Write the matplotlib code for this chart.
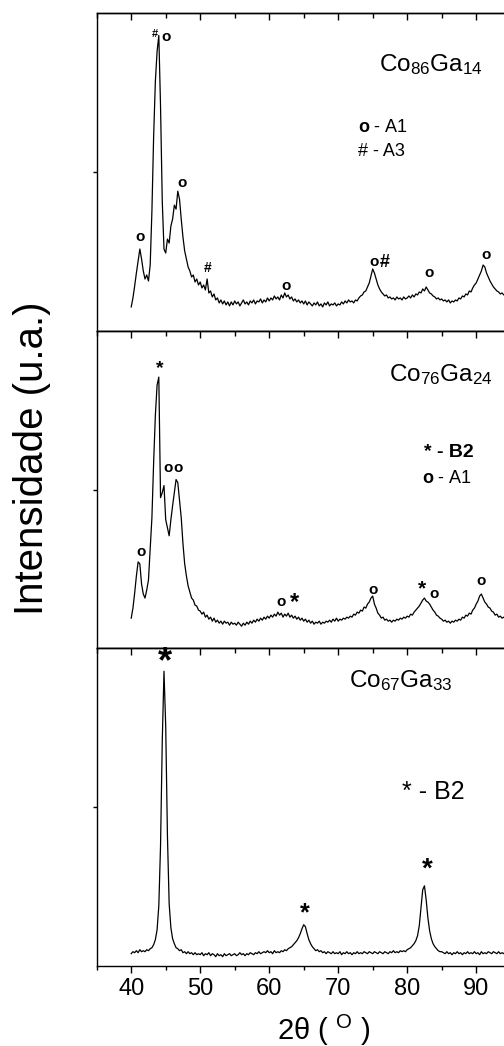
import numpy as np
import matplotlib
matplotlib.use("Agg")
import matplotlib.pyplot as plt
from matplotlib.ticker import MultipleLocator

plt.rcParams['font.family'] = ['Liberation Sans', 'DejaVu Sans']
plt.rcParams['mathtext.fontset'] = 'custom'
plt.rcParams['mathtext.rm'] = 'Liberation Sans'
plt.rcParams['mathtext.it'] = 'Liberation Sans:italic'
plt.rcParams['mathtext.bf'] = 'Liberation Sans:bold'
plt.rcParams['mathtext.default'] = 'regular'

# scan grid in degrees, counts (a.u.)
two_theta = np.arange(40.0, 95.01, 0.25)

counts_86 = [
    24, 33, 45, 58, 70, 82, 72, 60, 52, 56, 50, 66, 120, 195, 250, 280, 296, 225, 130, 82,
    78, 92, 88, 105, 112, 126, 122, 140, 132, 112, 94, 80, 72, 64, 60, 54, 56, 49, 52, 46,
    49, 43, 46, 41, 52, 38, 40, 34, 37, 31, 33, 28, 31, 27, 30, 26, 29, 25, 29, 26,
    30, 27, 29, 25, 28, 31, 27, 29, 26, 30, 28, 31, 27, 30, 29, 32, 28, 31, 29, 33,
    30, 33, 31, 35, 32, 34, 31, 36, 33, 38, 34, 36, 32, 34, 30, 32, 29, 31, 28, 30,
    27, 30, 26, 29, 27, 25, 28, 26, 29, 25, 27, 24, 28, 26, 29, 25, 27, 26, 28, 25,
    27, 26, 29, 27, 30, 28, 31, 29, 30, 28, 31, 30, 33, 35, 36, 39, 40, 44, 48, 55,
    62, 58, 52, 46, 42, 39, 37, 35, 36, 33, 34, 32, 33, 31, 34, 32, 33, 31, 34, 32,
    33, 35, 33, 36, 34, 37, 36, 39, 38, 42, 40, 44, 41, 38, 37, 35, 34, 32, 33, 31,
    32, 30, 31, 29, 31, 28, 30, 29, 31, 30, 33, 32, 35, 34, 37, 36, 40, 39, 43, 46,
    48, 52, 56, 60, 66, 64, 58, 54, 50, 47, 44, 42, 40, 39, 37, 38, 36, 37, 35, 36,
    34]

counts_76 = [
    30, 40, 55, 72, 86, 84, 64, 54, 50, 58, 68, 100, 130, 185, 232, 262, 270, 150, 155, 162,
    128, 120, 112, 128, 142, 155, 168, 165, 148, 130, 104, 84, 72, 62, 56, 50, 48, 43, 42, 38,
    37, 34, 36, 31, 33, 29, 31, 27, 30, 26, 28, 25, 27, 24, 27, 25, 26, 23, 26, 24,
    25, 23, 26, 24, 22, 25, 23, 26, 24, 27, 25, 28, 26, 29, 27, 30, 28, 31, 29, 32,
    30, 33, 31, 34, 32, 36, 33, 35, 31, 34, 32, 35, 31, 33, 30, 32, 29, 31, 28, 30,
    27, 29, 26, 28, 25, 27, 24, 26, 25, 27, 24, 26, 25, 27, 26, 28, 26, 29, 27, 30,
    27, 29, 28, 30, 29, 31, 30, 32, 31, 34, 33, 36, 35, 38, 37, 41, 40, 44, 46, 50,
    52, 44, 40, 35, 33, 30, 31, 28, 29, 27, 28, 26, 28, 27, 29, 28, 30, 29, 31, 30,
    32, 31, 34, 33, 36, 38, 40, 42, 45, 48, 50, 47, 46, 44, 41, 38, 36, 33, 32, 30,
    29, 27, 28, 26, 27, 25, 27, 26, 28, 27, 29, 28, 31, 30, 33, 32, 35, 34, 38, 40,
    44, 47, 52, 54, 50, 46, 44, 41, 40, 37, 36, 33, 34, 31, 32, 30, 31, 29, 30, 28,
    28]

counts_67 = [
    12, 14, 13, 15, 13, 16, 14, 15, 14, 16, 15, 17, 18, 21, 26, 36, 60, 120, 225, 295,
    240, 130, 62, 38, 27, 22, 18, 17, 15, 16, 13, 14, 12, 14, 12, 13, 11, 13, 11, 12,
    11, 13, 10, 12, 11, 13, 10, 12, 11, 9, 12, 10, 11, 9, 12, 10, 11, 12, 10, 11,
    12, 10, 11, 13, 11, 12, 10, 12, 11, 13, 12, 11, 13, 12, 14, 12, 13, 14, 13, 15,
    13, 14, 12, 15, 13, 14, 13, 15, 14, 16, 15, 17, 18, 19, 21, 23, 25, 28, 32, 37,
    41, 39, 32, 26, 22, 19, 17, 15, 16, 14, 15, 13, 14, 12, 14, 13, 12, 14, 12, 13,
    12, 14, 11, 13, 12, 14, 12, 13, 11, 13, 12, 14, 12, 13, 12, 14, 13, 12, 14, 13,
    12, 14, 13, 12, 14, 13, 12, 14, 13, 12, 14, 13, 15, 13, 14, 13, 15, 14, 15, 14,
    16, 17, 18, 20, 22, 25, 30, 40, 58, 76, 80, 66, 48, 35, 27, 22, 19, 17, 15, 14,
    14, 13, 12, 14, 12, 13, 11, 13, 12, 14, 12, 13, 11, 13, 12, 14, 12, 13, 12, 14,
    12, 13, 11, 14, 12, 13, 12, 14, 13, 12, 14, 13, 12, 14, 12, 13, 12, 14, 13, 12,
    13]

samples = ['Co$_{86}$Ga$_{14}$', 'Co$_{76}$Ga$_{24}$', 'Co$_{67}$Ga$_{33}$']
scans = [counts_86, counts_76, counts_67]
y_tops = [318, 316, 318]

# peak marks: symbol, 2theta, height, font size
marks = [
    [('o', 41.3, 94, 11), ('#', 43.5, 297, 8), ('o', 45.1, 294, 11), ('o', 47.35, 148, 11),
     ('#', 51.1, 63, 10), ('o', 62.5, 45, 11), ('o', 75.2, 69, 11), ('#', 76.7, 69, 13),
     ('o', 83.1, 58, 11), ('o', 91.5, 76, 11)],
    [('o', 41.45, 96, 11), ('*', 44.1, 278, 14), ('o', 45.4, 179, 11), ('o', 46.8, 179, 11),
     ('o', 61.7, 46, 11), ('*', 63.6, 46, 17), ('o', 75.0, 58, 11), ('*', 82.1, 59, 15),
     ('o', 83.9, 54, 11), ('o', 90.7, 67, 11)],
    [('*', 44.9, 304, 26), ('*', 65.1, 52, 18), ('*', 82.85, 96, 20)],
]

# phase keys: text, 2theta, baseline height, size, weight
keys = [
    [(r'$\mathbf{o}$ - A1', 72.9, 199, 13, 'normal'), ('# - A3', 72.9, 175, 13, 'normal')],
    [('* - B2', 82.4, 190, 14, 'bold'), (r'$\mathbf{o}$ - A1', 82.2, 165, 13, 'normal')],
    [('* - B2', 79.2, 167, 18, 'normal')],
]
name_pos = [(75.85, 260), (77.3, 266), (71.5, 279)]

assert len(two_theta) == len(counts_86) == len(counts_76) == len(counts_67)

fig, axes = plt.subplots(3, 1, figsize=(5.04, 10.46), dpi=100, sharex=True,
                         gridspec_kw=dict(hspace=0))
fig.subplots_adjust(left=0.1919, right=1.0817, bottom=0.0768, top=0.9871)

for i, ax in enumerate(axes):
    ax.plot(two_theta, scans[i], color='black', lw=0.9)
    ax.set_xlim(35, 100)
    ax.set_ylim(0, y_tops[i])
    ax.set_yticks([y_tops[i] / 2])
    ax.set_yticklabels([])
    ax.tick_params(axis='y', direction='out', length=3, width=1)
    for s in ax.spines.values():
        s.set_linewidth(1.0)

    sec = ax.secondary_xaxis('top')
    sec.set_xticks(np.arange(40, 101, 10))
    sec.xaxis.set_minor_locator(MultipleLocator(5))
    sec.tick_params(which='both', direction='in', labeltop=False, width=1)
    sec.tick_params(which='major', length=5)
    sec.tick_params(which='minor', length=3.5)
    sec.spines['top'].set_linewidth(1.0)

    ax.text(name_pos[i][0], name_pos[i][1], samples[i], fontsize=17.5,
            ha='left', va='baseline')
    for sym, x, y, fs in marks[i]:
        ax.text(x, y, sym, fontsize=fs, fontweight='bold', ha='center', va='center')
    for txt, x, y, fs, fw in keys[i]:
        ax.text(x, y, txt, fontsize=fs, fontweight=fw, ha='left', va='baseline')

    if i < 2:
        ax.tick_params(axis='x', which='both', bottom=False, labelbottom=False)

last = axes[-1]
last.set_xticks(np.arange(40, 91, 10))
last.xaxis.set_minor_locator(MultipleLocator(5))
last.tick_params(axis='x', which='both', direction='out', width=1, labelsize=17, pad=4)
last.tick_params(axis='x', which='major', length=5)
last.tick_params(axis='x', which='minor', length=3)

fig.text(324 / 504, 0.0057, '2θ ( $^{O}$ )', fontsize=21, ha='center', va='baseline')
fig.text(32 / 504, 1 - 458 / 1046, 'Intensidade (u.a.)', fontsize=29,
         rotation=90, ha='center', va='center')

fig.savefig('out.png', dpi=100)
